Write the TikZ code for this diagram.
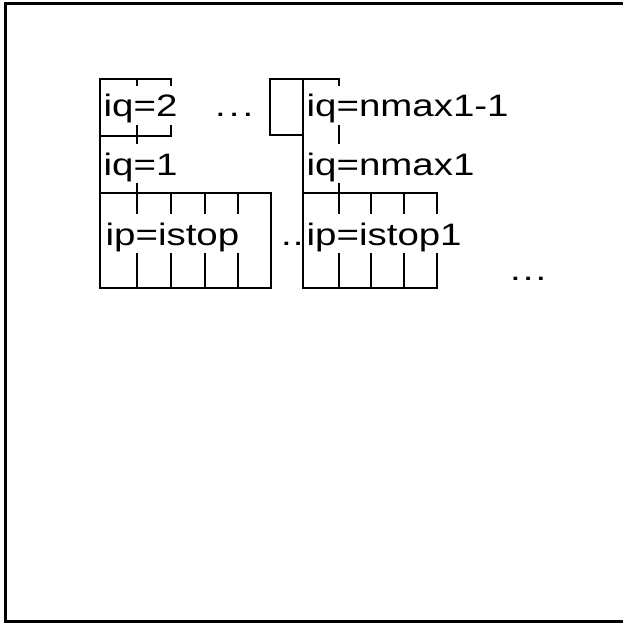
\documentclass[tikz,border=0pt]{standalone}
\usepackage{fontspec}
\newfontfamily\lab[FakeStretch=1.24]{Liberation Sans}
\tikzset{
  grid/.style={line width=2pt, line cap=rect},
  frame/.style={line width=3pt},
  lbl/.style={anchor=base west, fill=white, inner xsep=0.5pt, inner ysep=0pt,
    text height=31pt, text depth=8pt, font=\lab\fontsize{31}{36}\selectfont},
  dots/.style={anchor=base west, inner sep=0pt, font=\lab\fontsize{31}{36}\selectfont}
}
\begin{document}
\begin{tikzpicture}[x=1pt,y=-1pt]
\useasboundingbox (0,0) rectangle (623,623);
% outer frame
\draw[frame] (5,626) -- (5,4) -- (627,4);
\draw[frame] (5,621) -- (627,621);
% left column
\draw[grid] (100,79) -- (100,288);
\draw[grid] (100,79) -- (171,79) -- (171,136) -- (100,136);
\draw[grid] (137,79) -- (137,288);
\draw[grid] (100,193) rectangle (271,288);
\foreach \x in {171,205,238} \draw[grid] (\x,193) -- (\x,288);
% right column
\draw[grid] (303,135) -- (270,135) -- (270,79) -- (339,79);
\draw[grid] (303,79) -- (303,288);
\draw[grid] (339,79) -- (339,288);
\draw[grid] (303,193) rectangle (437,288);
\foreach \x in {371,404} \draw[grid] (\x,193) -- (\x,288);
% labels
\node[lbl] (q2) at (103,117) {iq=2};
\node[lbl] (q1) at (103,175) {iq=1};
\node[lbl] (p0) at (105,245) {ip=istop};
\node[lbl] (qn1) at (306,117) {iq=nmax1-1};
\node[lbl] (qn) at (306,175) {iq=nmax1};
\node[lbl] (p1) at (306,245) {ip=istop1};
\node[dots] (d1) at (215,117) {.\kern3pt.\kern3pt.};
\node[dots] (d2) at (281,245) {.\kern1pt.};
\node[dots] (d3) at (510,280) {.\kern2pt.\kern2pt.};
\end{tikzpicture}
\end{document}
